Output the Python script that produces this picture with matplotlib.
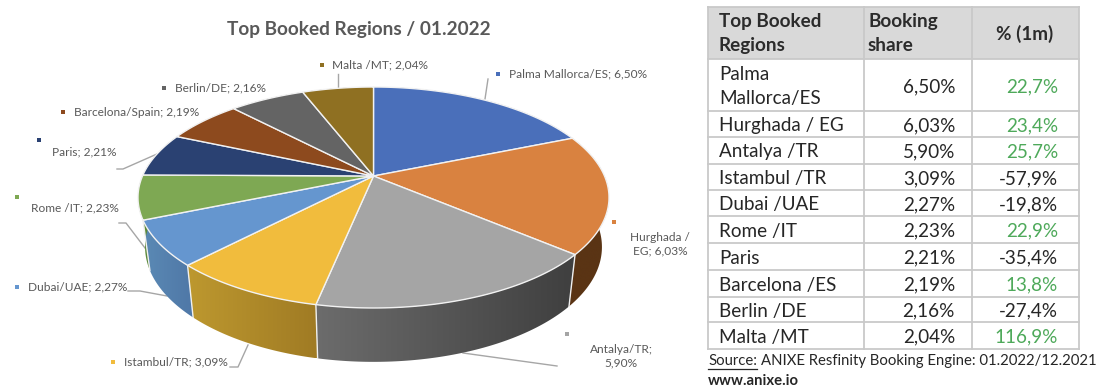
import numpy as np
import matplotlib
matplotlib.use("Agg")
import matplotlib.pyplot as plt
from matplotlib.patches import Polygon, Rectangle
from matplotlib.colors import to_rgb

plt.rcParams['font.family'] = ['Lato', 'DejaVu Sans']

# ---- data ----
title = "Top Booked Regions / 01.2022"
pie_names = ["Palma Mallorca/ES", "Hurghada / EG", "Antalya/TR", "Istambul/TR", "Dubai/UAE",
             "Rome /IT", "Paris", "Barcelona/Spain", "Berlin/DE", "Malta /MT"]
shares = [6.50, 6.03, 5.90, 3.09, 2.27, 2.23, 2.21, 2.19, 2.16, 2.04]
table_names = ["Palma\nMallorca/ES", "Hurghada / EG", "Antalya /TR", "Istambul /TR", "Dubai /UAE",
               "Rome /IT", "Paris", "Barcelona /ES", "Berlin /DE", "Malta /MT"]
changes = [22.7, 23.4, 25.7, -57.9, -19.8, 22.9, -35.4, 13.8, -27.4, 116.9]
table_header = ["Top Booked\nRegions", "Booking\nshare", "% (1m)"]

# ---- styles ----
top_colors = ["#4a6fba", "#d98240", "#a5a5a5", "#f1bc3d", "#6596cf",
              "#7ea853", "#2a4172", "#8d4a1e", "#646464", "#8f7022"]
wall_colors = [("#34507f", "#34507f"), ("#5a3414", "#5a3414"), ("#3f3f3f", "#6c6c6c"),
               ("#a07b24", "#bd982f"), ("#5079a8", "#5b8ab5"), ("#5d8a3a", "#5d8a3a"),
               ("#1c2c50", "#1c2c50"), ("#5f3214", "#5f3214"), ("#444444", "#444444"),
               ("#5f4b16", "#5f4b16")]
TXT = "#595959"
LINE = "#a6a6a6"

fig = plt.figure(figsize=(11, 3.9), dpi=100)
ax = fig.add_axes([0, 0, 1, 1])
ax.set_xlim(0, 1100)
ax.set_ylim(390, 0)
ax.axis("off")

# ---- perspective pie projection ----
CX, CY, BX, AY, W = 373.5, 176.0, 231.0, 106.3, 0.1946
XK, YK, YC = 0.970, 1.04, 224.6


def top_pt(deg):
    t = np.radians(deg)
    u, v = np.sin(t), np.cos(t)
    d = 1 + W * v
    return CX + BX * u / d, CY - AY * v / d


def bottom_pt(deg):
    x, y = top_pt(deg)
    return CX + (x - CX) * XK, YC + (y - CY) * YK


edges = np.concatenate([[0], np.cumsum(shares)]) / np.sum(shares) * 360

for i in range(len(shares)):
    a0, a1 = edges[i], edges[i + 1]
    steps = np.linspace(a0, a1, 81)
    wall = [top_pt(a) for a in steps] + [bottom_pt(a) for a in steps[::-1]]
    xs = np.array([p[0] for p in wall])
    ys = np.array([p[1] for p in wall])
    c0, c1 = np.array(to_rgb(wall_colors[i][0])), np.array(to_rgb(wall_colors[i][1]))
    # gradient runs horizontally between the slice's two end edges
    x0, x1 = top_pt(a0)[0], top_pt(a1)[0]
    grid_x = np.linspace(xs.min(), xs.max(), 200)
    f = np.clip((grid_x - x0) / (x1 - x0), 0, 1) if abs(x1 - x0) > 1 else np.full(200, 0.5)
    grad = (c0[None, :] * (1 - f[:, None]) + c1[None, :] * f[:, None])[None, :, :]
    clip = Polygon(wall, closed=True, facecolor="none", edgecolor="none", transform=ax.transData)
    ax.add_patch(clip)
    im = ax.imshow(grad, extent=(xs.min(), xs.max(), ys.max(), ys.min()), aspect="auto",
                   zorder=2, interpolation="bilinear")
    im.set_clip_path(clip)
ax.set_xlim(0, 1100)
ax.set_ylim(390, 0)

for a in edges:
    if 100 < a < 250:
        p, q = top_pt(a), bottom_pt(a)
        ax.plot([p[0], q[0]], [p[1], q[1]], color="#f0f0f0", lw=1.0, zorder=3)

for i in range(len(shares)):
    arc = [top_pt(a) for a in np.linspace(edges[i], edges[i + 1], 80)]
    ax.add_patch(Polygon([(CX, CY)] + arc, closed=True, facecolor=top_colors[i],
                         edgecolor="#f2f2f2", lw=1.0, joinstyle="round", zorder=4))

# ---- leader lines ----
leaders = [[(485, 99), (488, 79)],
           [(463, 353), (557, 366)],
           [(248, 345), (238, 367), (230, 367)],
           [(128, 291), (140, 291), (167, 296)],
           [(119, 223), (126, 223), (145, 248)],
           [(117, 169), (123, 169), (157, 154)],
           [(338, 74), (338, 87)]]
for pts in leaders:
    ax.plot(*zip(*pts), color=LINE, lw=1.0, zorder=1.5)

# ---- labels ----
marker_xy = [(498, 74), (614, 222), (567, 334), (113, 362), (17, 287),
             (17, 197), (39, 140), (63, 112), (164, 88), (322, 65)]
LAB = 8.6
for i, (name, val) in enumerate(zip(pie_names, shares)):
    mx, my = marker_xy[i]
    ax.add_patch(Rectangle((mx - 2.3, my - 2.3), 4.6, 4.6, facecolor=top_colors[i], edgecolor="none", zorder=5))
label_pos = [(509, 74, "left"), (660, 244.5, "center"), (621, 356, "center"), (124, 362, "left"),
             (28, 287, "left"), (31, 208, "left"), (52, 152, "left"), (74, 112, "left"),
             (175, 88, "left"), (332, 65, "left")]
label_text = [f"{n}; {v:.2f}%".replace(".", ",") for n, v in zip(pie_names, shares)]
label_text[1] = label_text[1].replace("/ ", "/\n")
label_text[2] = label_text[2].replace("; ", ";\n")
for (x, y, ha), s in zip(label_pos, label_text):
    ax.text(x, y, s, ha=ha, va="center", fontsize=LAB, color=TXT, linespacing=1.31, zorder=6)

ax.text(359, 30, title, ha="center", va="center", fontsize=13.7, fontweight="bold", color=TXT)

# ---- table ----
col_x = [708, 864, 972, 1079]
row_y = [7, 59, 111, 137, 164, 190, 216, 243, 270, 297, 322, 349]
ax.add_patch(Rectangle((col_x[0], row_y[0]), col_x[-1] - col_x[0], row_y[1] - row_y[0],
                       facecolor="#d9d9d9", edgecolor="none", zorder=1))
for x in col_x:
    ax.plot([x, x], [row_y[0], row_y[-1]], color="#c9c9c9", lw=1.3, zorder=2, solid_capstyle="projecting")
for y in row_y:
    ax.plot([col_x[0], col_x[-1]], [y, y], color="#c9c9c9", lw=1.3, zorder=2, solid_capstyle="projecting")

TF = 13.6
TS = 1.5
ax.text(719, 33.5, table_header[0], ha="left", va="center", fontsize=TF, fontweight="bold",
        color="#2b2b2b", linespacing=TS, zorder=3)
ax.text(868, 33.5, table_header[1], ha="left", va="center", fontsize=TF, fontweight="bold",
        color="#2b2b2b", linespacing=TS, zorder=3)
ax.text(1025, 33.5, table_header[2], ha="center", va="center", fontsize=TF, fontweight="bold",
        color="#2b2b2b", zorder=3)
for r, (n, v, c) in enumerate(zip(table_names, shares, changes)):
    yc = (row_y[r + 1] + row_y[r + 2]) / 2 + 1.5
    ax.text(719, yc, n, ha="left", va="center", fontsize=TF, color="#262626", linespacing=TS, zorder=3)
    ax.text(955, yc, f"{v:.2f}%".replace(".", ","), ha="right", va="center", fontsize=TF,
            color="#262626", zorder=3)
    ax.text(1058, yc, f"{c:.1f}%".replace(".", ","), ha="right", va="center", fontsize=TF,
            color="#4ea95a" if c > 0 else "#262626", zorder=3)

# ---- source ----
SF = 10.7
src = ax.text(708, 361, "Source:", ha="left", va="center", fontsize=SF, color="#262626")
fig.canvas.draw()
bb = src.get_window_extent(fig.canvas.get_renderer())
ax.plot([bb.x0, bb.x1], [368.5, 368.5], color="#262626", lw=0.9)
ax.text(bb.x1 + 4, 361, "ANIXE Resfinity Booking Engine: 01.2022/12.2021", ha="left", va="center",
        fontsize=SF, color="#262626")
ax.text(708, 381, "www.anixe.io", ha="left", va="center", fontsize=SF, fontweight="bold", color="#262626")

fig.savefig("out.png", dpi=100, facecolor="white")
